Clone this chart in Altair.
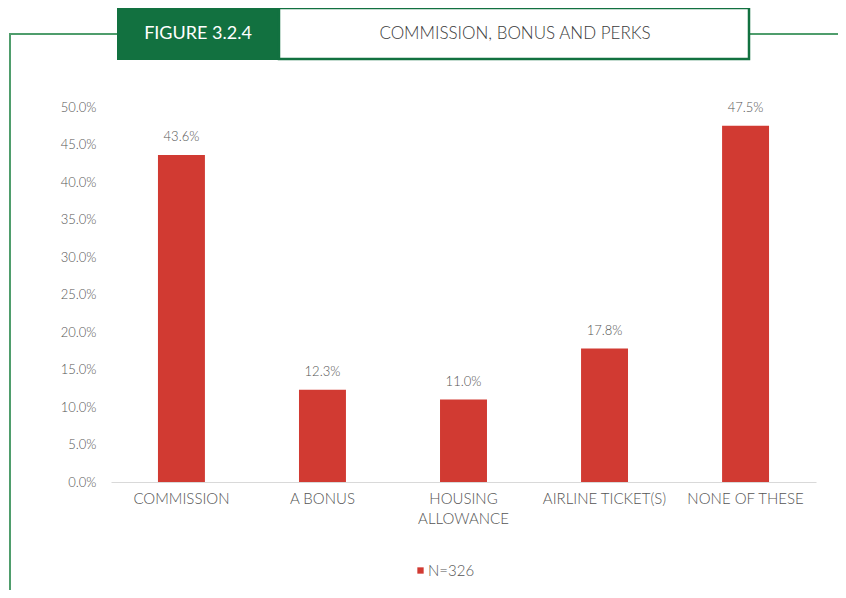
import altair as alt
import pandas as pd

categories = ["COMMISSION", "A BONUS", "HOUSING ALLOWANCE", "AIRLINE TICKET(S)", "NONE OF THESE"]
values = [43.6, 12.3, 11.0, 17.8, 47.5]
series_name = "N=326"
y_ticks = [0, 5, 10, 15, 20, 25, 30, 35, 40, 45, 50]
figure_label = "FIGURE 3.2.4"
figure_title = "COMMISSION, BONUS AND PERKS"

RED = "#d13a32"
DARK_GREEN = "#127140"
LINE_GREEN = "#4f9d6c"
GREY = "#555555"
FONT = "Lato"

df = pd.DataFrame({"category": categories, "value": values, "series": [series_name] * len(categories)})
df["label"] = [f"{v:.1f}%" for v in values]
one = pd.DataFrame({"k": [0]})

x_enc = alt.X(
    "category:N",
    sort=categories,
    scale=alt.Scale(paddingInner=0.667, paddingOuter=0.333),
    axis=alt.Axis(
        title=None,
        labelAngle=0,
        labelFont=FONT,
        labelFontSize=15,
        labelFontWeight=300,
        labelColor=GREY,
        labelPadding=9,
        ticks=False,
        domainColor="#d9d9d9",
        domainWidth=1,
        labelLimit=200,
        labelLineHeight=20,
        labelExpr="datum.label == 'HOUSING ALLOWANCE' ? ['HOUSING', 'ALLOWANCE'] : datum.label",
    ),
)
y_enc = alt.Y(
    "value:Q",
    scale=alt.Scale(domain=[0, 50], nice=False),
    axis=alt.Axis(
        title=None,
        values=y_ticks,
        tickCount=11,
        labelOverlap=False,
        labelExpr="format(datum.value, '.1f') + '%'",
        labelFont=FONT,
        labelFontSize=13,
        labelFontWeight=300,
        labelColor=GREY,
        labelPadding=15,
        ticks=False,
        domain=False,
        grid=False,
    ),
)

bars = alt.Chart(df).mark_bar(color=RED).encode(
    x=x_enc,
    y=y_enc,
    color=alt.Color(
        "series:N",
        scale=alt.Scale(range=[RED]),
        legend=alt.Legend(
            title=None,
            orient="none",
            legendX=302,
            legendY=456,
            symbolType="square",
            symbolSize=40,
            symbolStrokeWidth=0,
            labelFont=FONT,
            labelFontSize=15,
            labelFontWeight=300,
            labelColor=GREY,
            labelOffset=0,
            padding=0,
        ),
    ),
)

labels = alt.Chart(df).mark_text(
    baseline="bottom", dy=-11, font=FONT, fontSize=13, fontWeight=300, color=GREY
).encode(x=x_enc, y=y_enc, text="label:N")

# decorative frame
hline_left = alt.Chart(one).mark_rule(color=LINE_GREEN, strokeWidth=2).encode(
    x=alt.value(-101), x2=alt.value(6), y=alt.value(-73)
)
hline_right = alt.Chart(one).mark_rule(color=LINE_GREEN, strokeWidth=2).encode(
    x=alt.value(639), x2=alt.value(740), y=alt.value(-73)
)
vline = alt.Chart(one).mark_rule(color=LINE_GREEN, strokeWidth=2).encode(
    x=alt.value(-101), y=alt.value(-74), y2=alt.value(500)
)
green_box = alt.Chart(one).mark_rect(color=DARK_GREEN).encode(
    x=alt.value(6), x2=alt.value(168), y=alt.value(-100), y2=alt.value(-47)
)
white_box = alt.Chart(one).mark_rect(fill="white", stroke=DARK_GREEN, strokeWidth=2.5).encode(
    x=alt.value(168), x2=alt.value(638), y=alt.value(-99), y2=alt.value(-48)
)
fig_text = alt.Chart(one).mark_text(
    font=FONT, fontSize=18, fontWeight="normal", color="white", align="center", baseline="middle"
).encode(x=alt.value(87), y=alt.value(-73), text=alt.value(figure_label))
title_text = alt.Chart(one).mark_text(
    font=FONT, fontSize=17, fontWeight=300, color="#3a3a3a", align="center", baseline="middle"
).encode(x=alt.value(404), y=alt.value(-73), text=alt.value(figure_title))

chart = alt.layer(
    hline_left, hline_right, vline, green_box, white_box, fig_text, title_text, bars, labels
).properties(
    width=705,
    height=375,
    autosize=alt.AutoSizeParams(type="none"),
    padding={"left": 103, "top": 99, "right": 22, "bottom": 108},
).configure_view(stroke=None)

chart.save("out.html", embed_options={"renderer": "svg", "actions": False})
